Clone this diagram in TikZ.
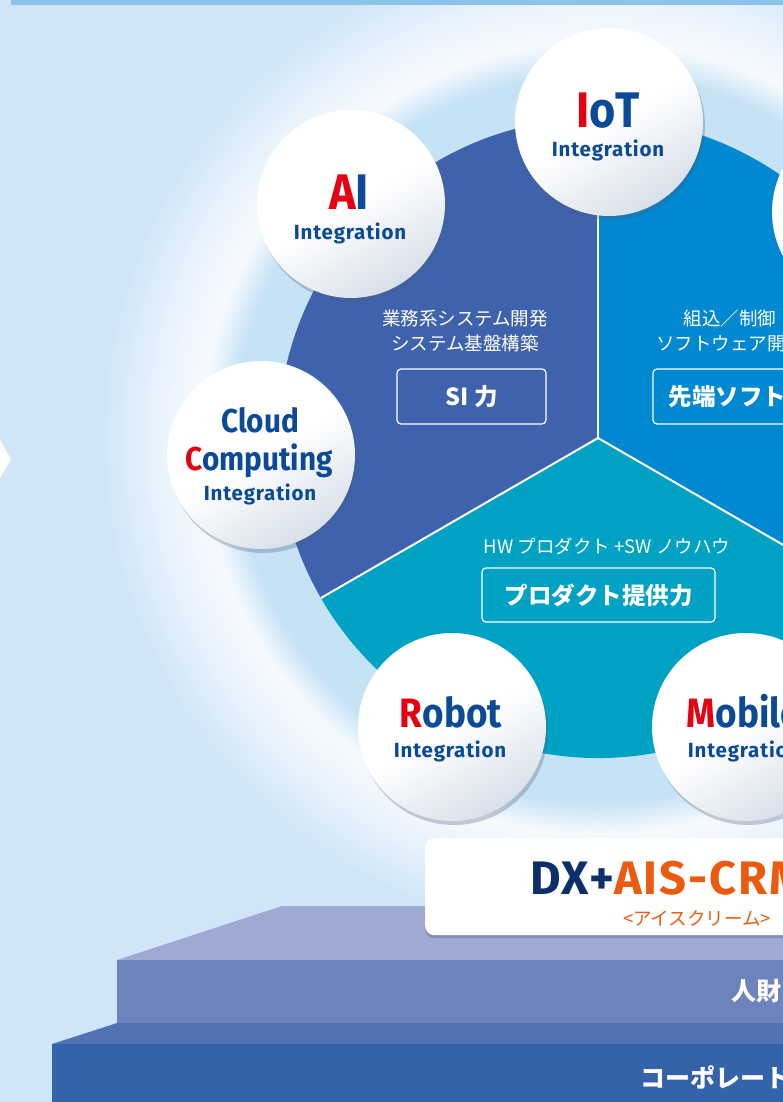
\documentclass[tikz,border=0pt]{standalone}
\usepackage{fontspec}
\usetikzlibrary{positioning}
\usetikzlibrary{shadows}
\newfontfamily\jpfont{Noto Sans CJK JP}
\newfontfamily\dinfont[FakeStretch=0.9]{Fira Sans}
\newfontfamily\integfont[LetterSpace=4]{Fira Sans}
\definecolor{bgblue}{HTML}{D0E6F8}
\definecolor{topbar}{HTML}{8CC3E8}
\definecolor{glowblue}{HTML}{C6E2F5}
\definecolor{halowhite}{HTML}{F6FAFE}
\definecolor{halomid}{HTML}{E9F3FC}
\definecolor{secleft}{HTML}{3F62AD}
\definecolor{secright}{HTML}{0088D1}
\definecolor{secbottom}{HTML}{00A2C4}
\definecolor{navy}{HTML}{0B4A97}
\definecolor{accentred}{HTML}{E60012}
\definecolor{bubblegray}{HTML}{D8E0EA}
\definecolor{shadowblue}{HTML}{4A5A7C}
\definecolor{dxnavy}{HTML}{0B2F6B}
\definecolor{dxorange}{HTML}{EC5B0D}
\definecolor{steptop}{HTML}{9EAAD3}
\definecolor{stepmid}{HTML}{6C83BC}
\definecolor{stepslant}{HTML}{5273B3}
\definecolor{stepbase}{HTML}{3563AA}
\pgfdeclareradialshading{halo}{\pgfpoint{0bp}{0bp}}{color(0bp)=(glowblue); color(18.2bp)=(glowblue); color(19.8bp)=(halowhite); color(22bp)=(halomid); color(24.8bp)=(bgblue); color(50bp)=(bgblue)}
\tikzset{
bubble/.style={ % white discs round the wheel
circle, minimum size=188pt, inner sep=0pt,
top color=white, bottom color=bubblegray, middle color=white,
shading angle=30,
drop shadow={shadow xshift=2pt, shadow yshift=-4pt, opacity=0.3, fill=shadowblue}},
bubname/.style={anchor=base, inner sep=0pt, text=navy},
bigname/.style={bubname, font=\dinfont\bfseries\fontsize{50}{50}\selectfont},
midname/.style={bubname, font=\dinfont\bfseries\fontsize{41}{41}\selectfont},
smallname/.style={bubname, font=\dinfont\bfseries\fontsize{33}{33}\selectfont},
bubsub/.style={bubname, font=\integfont\bfseries\fontsize{20.5}{20.5}\selectfont},
seccap/.style={align=center, text=white, inner sep=0pt,
font=\jpfont\fontsize{18.5}{25}\selectfont},
powerbox/.style={draw=white, line width=1.2pt, rounded corners=4pt,
text=white, inner sep=0pt, font=\jpfont\bfseries\fontsize{23.5}{23.5}\selectfont},
divider/.style={draw=white, line width=2pt},
steptxt/.style={anchor=west, inner sep=0pt, text=white,
font=\jpfont\bfseries\fontsize{25}{25}\selectfont},
dxpanel/.style={fill=white, rounded corners=9pt, inner sep=0pt,
drop shadow={shadow xshift=0pt, shadow yshift=-3pt, opacity=0.35, fill=shadowblue}}
}
\begin{document}
\begin{tikzpicture}[x=1pt,y=1pt]
\useasboundingbox (0,0) rectangle (783,-1102);
\fill[bgblue] (0,0) rectangle (783,-1102);
\coordinate (hub) at (598,-438);
% halo round the wheel
\shade[shading=halo] (hub) circle (500);
\fill[topbar] (11,0) rectangle (783,-5);
\fill[white] (0,-440) -- (11,-459) -- (0,-478) -- cycle;

% wheel
\fill[secleft] (hub) -- ++(90:320) arc[start angle=90, end angle=210, radius=320] -- cycle;
\fill[secright] (hub) -- ++(-30:320) arc[start angle=-30, end angle=90, radius=320] -- cycle;
\fill[secbottom] (hub) -- ++(210:320) arc[start angle=210, end angle=330, radius=320] -- cycle;
\draw[divider] (hub) -- ++(90:320);
\draw[divider] (hub) -- ++(210:320);
\draw[divider] (hub) -- ++(330:320);

\node[seccap] (bizcap) at (465,-331) {業務系システム開発\\システム基盤構築};
\node[powerbox, minimum width=149pt, minimum height=55pt] (sibox) at (471.5,-396.5) {SI 力};
\node[seccap] (embcap) at (730,-331) {組込／制御\\ソフトウェア開発};
\node[powerbox, minimum width=149pt, minimum height=55pt] (swbox) at (727.5,-396.5) {先端ソフト};
\node[seccap] (hwcap) at (607,-546) {HW プロダクト +SW ノウハウ};
\node[powerbox, minimum width=233pt, minimum height=54pt] (prodbox) at (598.5,-595) {プロダクト提供力};

% bubbles
\node[bubble] (iot) at (609,-122) {};
\node[bubble] (ai) at (351,-204) {};
\node[bubble] (cloud) at (261,-455) {};
\node[bubble] (robot) at (452,-727) {};
\node[bubble] (mobile) at (746,-727) {};
\node[bubble] (edge) at (866,-212) {};

\node[bigname] (iotname) at (608,-128) {\textcolor{accentred}{I}oT};
\node[bubsub] (iotsub) at (608,-157) {Integration};
\node[bigname] (ainame) at (349,-209) {\textcolor{accentred}{A}I};
\node[bubsub] (aisub) at (350,-239) {Integration};
\node[smallname] (cloudname) at (260,-432) {Cloud};
\node[smallname] (compname) at (259,-470) {\textcolor{accentred}{C}omputing};
\node[bubsub] (cloudsub) at (260,-500) {Integration};
\node[midname] (robotname) at (451,-727) {\textcolor{accentred}{R}obot};
\node[bubsub] (robotsub) at (450,-757) {Integration};
\node[midname] (mobilename) at (744,-727) {\textcolor{accentred}{M}obile};
\node[bubsub] (mobilesub) at (744,-757) {Integration};

% steps
\fill[steptop] (282,-906) -- (800,-906) -- (800,-960) -- (117,-960) -- cycle;
\fill[stepmid] (117,-960) rectangle (800,-1023);
\fill[stepslant] (117,-1023) -- (800,-1023) -- (800,-1044) -- (52,-1044) -- cycle;
\fill[stepbase] (52,-1044) rectangle (800,-1110);
\node[steptxt] (talent) at (731,-991) {人財};
\node[steptxt] (corporate) at (640,-1077) {コーポレート};

% DX panel
\node[dxpanel, anchor=north west, minimum width=560pt, minimum height=97pt] (dxbox) at (425,-838) {};
\node[anchor=base west, inner sep=0pt, font=\integfont\bfseries\fontsize{47}{47}\selectfont] (dxtitle) at (530,-894) {\textcolor{dxnavy}{DX+}\textcolor{dxorange}{AIS-CRM}};
\node[inner sep=0pt, text=dxorange, font=\jpfont\fontsize{18.5}{18.5}\selectfont] (dxsub) at (697,-918) {<アイスクリーム>};
\end{tikzpicture}
\end{document}
